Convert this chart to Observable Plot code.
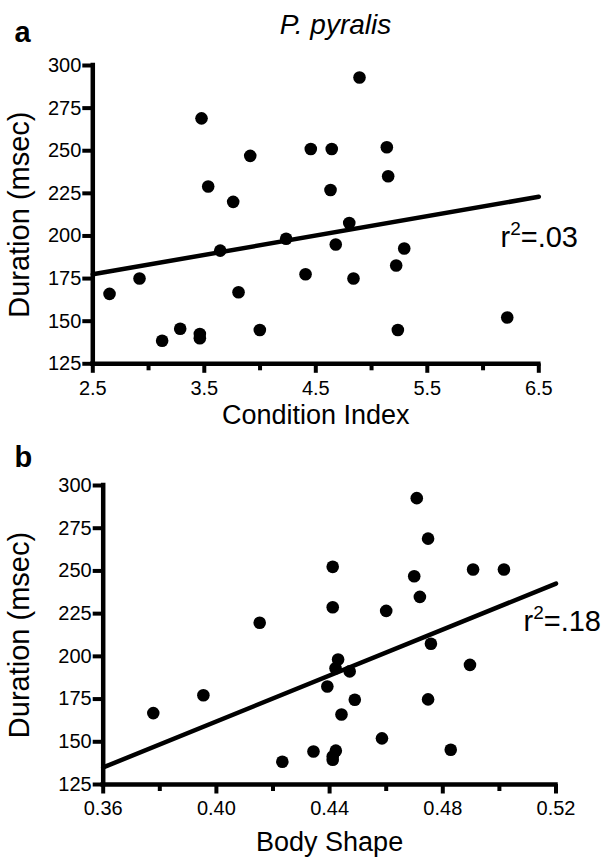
<!DOCTYPE html>
<html><head><meta charset="utf-8">
<script src="https://cdn.jsdelivr.net/npm/d3@7"></script>
<script src="https://cdn.jsdelivr.net/npm/@observablehq/plot@0.6"></script>
<style>
body{margin:0;background:#fff;}
#chart{position:relative;width:604px;height:859px;}
#chart svg{display:block;}
</style></head><body><div id="chart"></div>
<script>
// Panel a: Condition Index vs Duration
const conditionIndex = [3.475,3.535,3.759,3.912,4.455,4.643,4.632,4.892,5.137,5.149,2.650,2.919,3.122,3.284,3.46,3.46,3.643,3.807,3.998,4.234,4.408,4.679,4.80,4.838,5.293,5.221,5.236,6.217];
const durationA = [269,229,220,247,251,251,227,293,252,235,166,175,138.5,145.6,142.5,140,191.4,167,144.8,198.4,177.5,195,207.6,175,192.6,182.7,144.8,152.2];
// Panel b: Body Shape vs Duration
const bodyShape = [0.4411,0.4411,0.4708,0.4748,0.4699,0.4719,0.4907,0.5016,0.4153,0.4430,0.4421,0.4471,0.4392,0.4489,0.4442,0.3954,0.3777,0.4233,0.4343,0.4422,0.4411,0.4411,0.4600,0.4758,0.4896,0.4748,0.4585,0.4828];
const durationB = [252.4,228.7,292.6,268.9,246.9,234.8,250.8,250.8,219.7,198.2,193,191.2,182.4,174.6,166,177.2,166.8,138.3,144.3,144.8,141.4,139.5,226.6,207.4,195,174.8,152,145.3];

// Regression fit endpoints
const fitAx = [2.5, 6.5], fitAy = [177.5, 223];
const fitBx = [0.36, 0.52], fitBy = [135, 242.6];

// Axes
const yDomain = [125, 300];
const yTicks = [125,150,175,200,225,250,275,300];
const xDomainA = [2.5, 6.5];
const xMajorA = [2.5,3.5,4.5,5.5,6.5];
const xMinorA = [3.0,4.0,5.0,6.0];
const xDomainB = [0.36, 0.52];
const xMajorB = [0.36,0.40,0.44,0.48,0.52];
const xMinorB = [0.38,0.42,0.46,0.50];

const texts = {
  title: "P. pyralis",
  letters: ["a", "b"],
  yLabel: "Duration (msec)",
  xLabels: ["Condition Index", "Body Shape"],
  r2: ["r²=.03", "r²=.18"]
};

const FONT = "'Liberation Sans', Arial, Helvetica, sans-serif";

function panel(o) {
  const pts = o.xs.map((x, i) => ({x, y: o.ys[i]}));
  const fit = o.fx.map((x, i) => ({x, y: o.fy[i]}));
  const fl = o.ml, ft = o.mt;
  const marks = [
    Plot.axisY({ticks: yTicks, tickSize: 10, tickPadding: 1.5, fontSize: 20, strokeWidth: 4, label: null}),
    Plot.axisX({ticks: o.major, tickSize: 9.5, tickPadding: 7, fontSize: 20, strokeWidth: 4, label: null, tickFormat: o.fmt}),
    Plot.axisX({ticks: o.minor, tickSize: 7, strokeWidth: 4, text: null, label: null}),
    Plot.ruleY([yDomain[0]], {strokeWidth: 4.5, strokeLinecap: "square"}),
    Plot.ruleX([o.xDomain[0]], {strokeWidth: 4.5, strokeLinecap: "square"}),
    Plot.line(fit, {x: "x", y: "y", strokeWidth: 4.5}),
    Plot.dot(pts, {x: "x", y: "y", r: 6.3, fill: "black"}),
    Plot.text([o.xLabel], {frameAnchor: "bottom", textAnchor: "middle", dy: o.xlDy, lineAnchor: "bottom", fontSize: 27}),
    Plot.text([texts.yLabel], {frameAnchor: "left", textAnchor: "middle", rotate: -90, dx: 28.5 - fl, lineAnchor: "bottom", fontSize: 29}),
    Plot.text([o.r2], {frameAnchor: "top-left", textAnchor: "start", dx: o.r2x - fl, dy: o.r2y - ft, lineAnchor: "bottom", fontSize: 29}),
    Plot.text([o.letter], {frameAnchor: "top-left", textAnchor: "start", dx: 14 - fl, dy: o.letY - ft, lineAnchor: "bottom", fontSize: 29, fontWeight: "bold"})
  ];
  if (o.title) marks.push(Plot.text([o.title], {frameAnchor: "top", textAnchor: "middle", dx: 335 - (fl + (604 - fl - o.mr) / 2), dy: 33 - ft, lineAnchor: "bottom", fontSize: 28, fontStyle: "italic"}));
  const svg = Plot.plot({
    width: 604, height: o.h,
    marginTop: ft, marginRight: o.mr, marginBottom: o.mb, marginLeft: fl,
    x: {domain: o.xDomain},
    y: {domain: yDomain},
    style: {fontFamily: FONT, fontSize: "20px", background: "white", color: "black", overflow: "visible"},
    marks
  });
  // superscript for r²
  const ns = "http://www.w3.org/2000/svg";
  svg.querySelectorAll("text").forEach(t => {
    if (t.textContent.includes("²")) {
      const [pre, post] = t.textContent.split("²");
      t.textContent = "";
      const a = document.createElementNS(ns, "tspan"); a.textContent = pre;
      const b = document.createElementNS(ns, "tspan"); b.textContent = "2";
      b.setAttribute("font-size", "19"); b.setAttribute("dy", "-12");
      const c = document.createElementNS(ns, "tspan"); c.textContent = post; c.setAttribute("dy", "12");
      t.append(a, b, c);
    }
  });
  return svg;
}

const chart = document.getElementById("chart");
chart.append(panel({
  xs: conditionIndex, ys: durationA, fx: fitAx, fy: fitAy,
  xDomain: xDomainA, major: xMajorA, minor: xMinorA, fmt: d3.format(".1f"),
  xLabel: texts.xLabels[0], r2: texts.r2[0], letter: texts.letters[0], title: texts.title,
  h: 440, mt: 65, mb: 440 - 363.3, ml: 92.3, mr: 604 - 538.3,
  xlDy: 60, r2x: 500, r2y: 246.7, letY: 41
}));
chart.append(panel({
  xs: bodyShape, ys: durationB, fx: fitBx, fy: fitBy,
  xDomain: xDomainB, major: xMajorB, minor: xMinorB, fmt: d3.format(".2f"),
  xLabel: texts.xLabels[1], r2: texts.r2[1], letter: texts.letters[1], title: null,
  h: 419, mt: 45, mb: 419 - 344, ml: 102.7, mr: 604 - 555.5,
  xlDy: 66, r2x: 523, r2y: 190, letY: 26
}));
</script></body></html>
